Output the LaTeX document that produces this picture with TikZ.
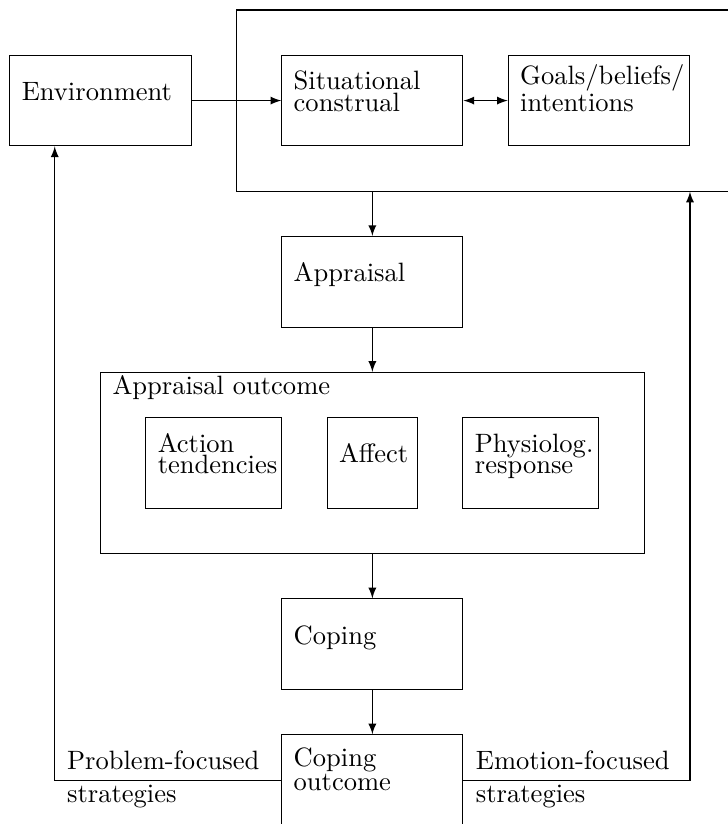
\documentclass[tikz,border=0pt]{standalone}
\tikzset{blk/.style={draw,rectangle,inner sep=0pt,minimum width=#1,minimum height=1.2cm},
  blk/.default=2.4cm,
  lbl/.style={anchor=base west,align=left,inner sep=0pt,font=\fontsize{10pt}{#1}\selectfont},
  lbl/.default=8pt}
\begin{document}
\begin{tikzpicture}[x=0.6cm,y=0.6cm,>=latex]
        \clip (-0.22,0.22) rectangle (15.85,-17.97);
        \node[draw,rectangle,inner sep=0pt,minimum width=6.6cm,minimum height=2.4cm] (outer) at (10.5,-2) {};
        \node[blk] (env) at (2,-2) {};
        \node[blk] (sit) at (8,-2) {};
        \node[blk] (gbi) at (13,-2) {};
        \node[blk] (app) at (8,-6) {};
        \node[draw,rectangle,inner sep=0pt,minimum width=7.2cm,minimum height=2.4cm] (aout) at (8,-10) {};
        \node[blk=1.8cm] (act) at (4.5,-10) {};
        \node[blk=1.2cm] (aff) at (8,-10) {};
        \node[blk=1.8cm] (phy) at (11.5,-10) {};
        \node[blk] (cop) at (8,-14) {};
        \node[blk] (cout) at (8,-17) {};
        \node[lbl] (envt) at ([xshift=4.5pt]env.west) {Environment};
        \node[lbl] (sitt) at ([xshift=4.5pt,yshift=-4pt]sit.west) {Situational\\construal};
        \node[lbl] (gbit) at ([xshift=4.5pt,yshift=-4pt]gbi.west) {Goals/beliefs/\\intentions};
        \node[lbl] (appt) at ([xshift=4.5pt]app.west) {Appraisal};
        \node[lbl] (aoutt) at ([xshift=4.5pt,yshift=-8.5pt]aout.north west) {Appraisal outcome};
        \node[lbl] (actt) at ([xshift=4.5pt,yshift=-4pt]act.west) {Action\\tendencies};
        \node[lbl] (afft) at ([xshift=4.5pt]aff.west) {Affect};
        \node[lbl] (phyt) at ([xshift=4.5pt,yshift=-4pt]phy.west) {Physiolog.\\response};
        \node[lbl] (copt) at ([xshift=4.5pt]cop.west) {Coping};
        \node[lbl] (coutt) at ([xshift=4.5pt,yshift=-4pt]cout.west) {Coping\\outcome};
        \node[lbl=12.5pt] (pft) at (1.25,-17.5) {Problem-focused\\strategies};
        \node[lbl=12.5pt] (eft) at ([xshift=4.5pt,yshift=-8.5pt]cout.east) {Emotion-focused\\strategies};
        \draw[->] (env) -- (sit);
        \draw[<->] (sit) -- (gbi);
        \draw[->] (outer.south -| app.north) -- (app);
        \draw[->] (app) -- (aout);
        \draw[->] (aout) -- (cop);
        \draw[->] (cop) -- (cout);
        \draw[->] (cout.west) -| ([xshift=0.6cm]env.south west);
        \draw[->] (cout.east) -| ([xshift=-0.6cm]outer.south east);
      \end{tikzpicture}
\end{document}
